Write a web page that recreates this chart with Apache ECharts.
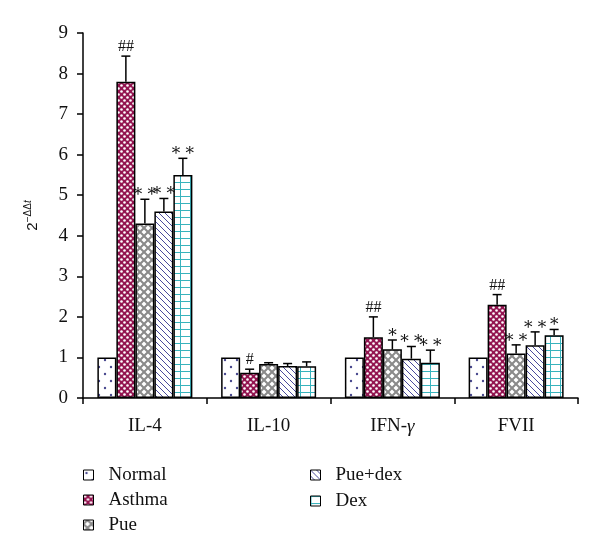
<!DOCTYPE html>
<html>
<head>
<meta charset="utf-8">
<script src="https://cdn.jsdelivr.net/npm/echarts@6/dist/echarts.min.js"></script>
<style>
  html, body { margin: 0; padding: 0; background: #fff; }
  #chart { width: 600px; height: 558px; }
</style>
</head>
<body>
<div id="chart"></div>
<script>
// ---- data ----
const categories = ['IL-4', 'IL-10', 'IFN-γ', 'FVII'];
const seriesNames = ['Normal', 'Asthma', 'Pue', 'Pue+dex', 'Dex'];
const normal = [1, 1, 1, 1];
const asthma = [7.8, 0.62, 1.5, 2.3];
const pue = [4.3, 0.84, 1.2, 1.1];
const pueDex = [4.6, 0.79, 0.97, 1.3];
const dex = [5.5, 0.78, 0.87, 1.55];
const asthmaErr = [0.63, 0.09, 0.5, 0.25];
const pueErr = [0.6, 0.03, 0.23, 0.21];
const pueDexErr = [0.32, 0.06, 0.3, 0.33];
const dexErr = [0.41, 0.11, 0.31, 0.14];
const asthmaSig = ['##', '#', '##', '##'];
const pueSig = ['* *', '', '*', '* *'];
const pueDexSig = ['* *', '', '* *', '* *'];
const dexSig = ['* *', '', '* *', '*'];
const yTicks = [0, 1, 2, 3, 4, 5, 6, 7, 8, 9];

// ---- pattern tiles ----
function tile(w, h, draw) {
  const c = document.createElement('canvas');
  c.width = w; c.height = h;
  const g = c.getContext('2d');
  draw(g, w, h);
  return { image: c, repeat: 'repeat' };
}
const patNormal = tile(12, 14, (g, w, h) => {
  g.fillStyle = '#fff'; g.fillRect(0, 0, w, h);
  g.fillStyle = '#48488e';
  [[3, 3], [9, 10]].forEach(p => { g.beginPath(); g.arc(p[0], p[1], 1.2, 0, Math.PI * 2); g.fill(); });
});
const patAsthma = tile(6, 6, (g, w, h) => {
  g.fillStyle = '#931450'; g.fillRect(0, 0, w, h);
  g.fillStyle = '#fff';
  [[1.5, 1.5], [4.5, 4.5]].forEach(p => { g.beginPath(); g.arc(p[0], p[1], 1.3, 0, Math.PI * 2); g.fill(); });
});
const patPue = tile(8, 8, (g, w, h) => {
  g.fillStyle = '#8a8a8a'; g.fillRect(0, 0, w, h);
  g.fillStyle = '#fff';
  const d = 2.5;
  [[0, 0], [8, 0], [0, 8], [8, 8], [4, 4]].forEach(p => {
    g.beginPath();
    g.moveTo(p[0], p[1] - d); g.lineTo(p[0] + d, p[1]); g.lineTo(p[0], p[1] + d); g.lineTo(p[0] - d, p[1]);
    g.closePath(); g.fill();
  });
});
const patPueDex = tile(6, 6, (g, w, h) => {
  g.fillStyle = '#fff'; g.fillRect(0, 0, w, h);
  g.strokeStyle = '#4a4a9c'; g.lineWidth = 1;
  g.beginPath();
  g.moveTo(-1, -1); g.lineTo(w + 1, h + 1);
  g.moveTo(-1, h - 1); g.lineTo(1, h + 1);
  g.moveTo(w - 1, -1); g.lineTo(w + 1, 1);
  g.stroke();
});
const patDex = tile(10, 7, (g, w, h) => {
  g.fillStyle = '#fff'; g.fillRect(0, 0, w, h);
  g.strokeStyle = '#38b3bd'; g.lineWidth = 1;
  g.beginPath();
  g.moveTo(0, 0.5); g.lineTo(w, 0.5);
  g.moveTo(0.5, 0); g.lineTo(0.5, h);
  g.stroke();
});
const patterns = [patNormal, patAsthma, patPue, patPueDex, patDex];

const BAR_W = 19;
const SERIF = 'Liberation Serif';

const barValues = [normal, asthma, pue, pueDex, dex];
const barSeries = barValues.map((vals, i) => ({
  name: seriesNames[i],
  type: 'bar',
  barWidth: BAR_W,
  barGap: '0%',
  data: vals,
  itemStyle: { color: patterns[i], borderColor: '#000', borderWidth: 1.5 },
  z: 2
}));

const errGroups = [
  { idx: 1, vals: asthma, err: asthmaErr, sig: asthmaSig },
  { idx: 2, vals: pue, err: pueErr, sig: pueSig },
  { idx: 3, vals: pueDex, err: pueDexErr, sig: pueDexSig },
  { idx: 4, vals: dex, err: dexErr, sig: dexSig }
];
const errSeries = errGroups.map(gp => ({
  type: 'custom',
  name: 'err' + gp.idx,
  z: 5,
  silent: true,
  encode: { x: 0, y: 1 },
  data: gp.vals.map((v, k) => [k, v, gp.err[k], gp.sig[k]]),
  renderItem: function (params, api) {
    const k = api.value(0), v = api.value(1), e = api.value(2);
    const sig = gp.sig[k];
    const base = api.coord([k, v]);
    const top = api.coord([k, v + e]);
    const cx = base[0] + (gp.idx - 2) * BAR_W;
    const children = [
      { type: 'line', shape: { x1: cx, y1: base[1], x2: cx, y2: top[1] }, style: { stroke: '#000', lineWidth: 1.5 } },
      { type: 'line', shape: { x1: cx - 4.5, y1: top[1], x2: cx + 4.5, y2: top[1] }, style: { stroke: '#000', lineWidth: 1.5 } }
    ];
    if (sig) {
      const star = sig.indexOf('*') >= 0;
      children.push({
        type: 'text',
        style: {
          text: sig, x: cx, y: top[1] + (star ? 5 : -1),
          align: 'center', verticalAlign: 'bottom',
          fontSize: star ? 17 : 16, fontFamily: star ? 'DejaVu Serif' : SERIF, fill: '#111'
        }
      });
    }
    return { type: 'group', children: children };
  }
}));

const legendText = { fontFamily: SERIF, fontSize: 19, color: '#111', lineHeight: 20, padding: [0, 0, 0, 10] };
const chart = echarts.init(document.getElementById('chart'), null, { renderer: 'canvas' });
chart.setOption({
  animation: false,
  backgroundColor: '#fff',
  grid: { left: 83, right: 22, top: 33, bottom: 160, containLabel: false },
  legend: [
    {
      data: ['Normal', 'Asthma', 'Pue'],
      orient: 'vertical', left: 83, top: 465, padding: 0,
      itemWidth: 10, itemHeight: 10, itemGap: 5, icon: 'rect',
      selectedMode: false,
      itemStyle: { borderColor: '#000', borderWidth: 1 },
      textStyle: legendText
    },
    {
      data: ['Pue+dex', 'Dex'],
      orient: 'vertical', left: 310, top: 465, padding: 0,
      itemWidth: 10, itemHeight: 10, itemGap: 6, icon: 'rect',
      selectedMode: false,
      itemStyle: { borderColor: '#000', borderWidth: 1 },
      textStyle: legendText
    }
  ],
  xAxis: {
    type: 'category',
    data: categories,
    axisLine: { lineStyle: { color: '#000', width: 1.5 } },
    axisTick: { show: true, length: 6, lineStyle: { color: '#000', width: 1.5 } },
    axisLabel: {
      interval: 0,
      color: '#111', fontFamily: SERIF, fontSize: 19, margin: 19,
      formatter: v => v === 'IFN-γ' ? '{n|IFN-}{g|γ}' : v,
      rich: {
        n: { fontFamily: SERIF, fontSize: 19, color: '#111' },
        g: { fontFamily: SERIF, fontSize: 19, color: '#111', fontStyle: 'italic' }
      }
    }
  },
  yAxis: {
    type: 'value',
    min: yTicks[0], max: yTicks[yTicks.length - 1], interval: 1,
    name: '{a|2}{b|−ΔΔ}{c|t}',
    nameLocation: 'middle', nameRotate: 90, nameGap: 43,
    nameTextStyle: {
      rich: {
        a: { fontFamily: 'Liberation Sans', fontSize: 15, color: '#111', lineHeight: 17, verticalAlign: 'bottom' },
        b: { fontFamily: 'Liberation Sans', fontSize: 10, color: '#111', lineHeight: 17, verticalAlign: 'top' },
        c: { fontFamily: 'Liberation Sans', fontSize: 10, color: '#111', fontStyle: 'italic', lineHeight: 17, verticalAlign: 'top' }
      }
    },
    axisLine: { show: true, lineStyle: { color: '#000', width: 1.5 } },
    axisTick: { show: true, length: 6, lineStyle: { color: '#000', width: 1.5 } },
    splitLine: { show: false },
    axisLabel: { color: '#111', fontFamily: SERIF, fontSize: 19, margin: 15 }
  },
  series: barSeries.concat(errSeries)
});
</script>
</body>
</html>
